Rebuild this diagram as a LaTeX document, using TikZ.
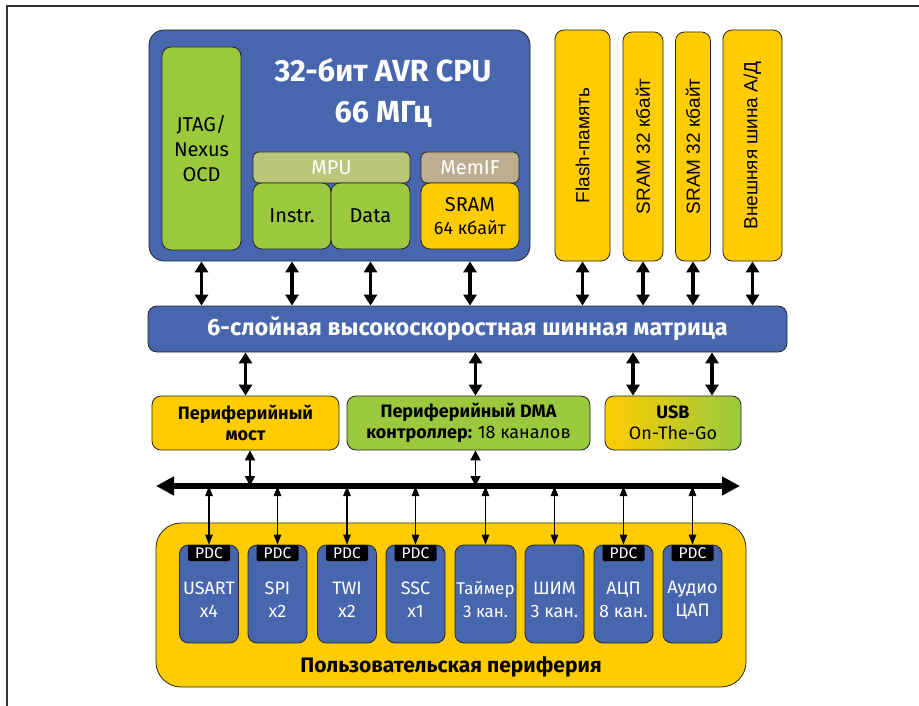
\documentclass[tikz,border=0pt]{standalone}
\usepackage{fontspec}
\setmainfont{Fira Sans}
\newfontfamily\vertfont{Liberation Sans}
\usetikzlibrary{arrows.meta}
\definecolor{cpublue}{HTML}{4866AE}
\definecolor{lgreen}{HTML}{9AC93D}
\definecolor{ayellow}{HTML}{FFCC00}
\definecolor{mpuolive}{HTML}{BCC67A}
\definecolor{memtan}{HTML}{BDAE8F}
\definecolor{framegray}{HTML}{333333}
\begin{document}
\begin{tikzpicture}[x=1pt,y=-1pt,
        box/.style={draw=black!85,line width=0.8pt,rounded corners=9pt,inner sep=0pt,align=center},
        bluebox/.style={box,fill=cpublue},
        greenbox/.style={box,fill=lgreen},
        yellowbox/.style={box,fill=ayellow},
        vertbox/.style={yellowbox,minimum height=231,font=\vertfont\fontsize{19}{19}\selectfont},
        midbox/.style={box,minimum height=54,font=\fontsize{18}{21}\selectfont\bfseries},
        pbox/.style={bluebox,minimum width=59,minimum height=98},
        ptext/.style={text=white,align=center,inner sep=0pt,font=\fontsize{18}{23}\selectfont},
        pdc/.style={fill=black,text=white,rounded corners=2pt,minimum width=42,minimum height=16,inner sep=0pt,font=\fontsize{15.5}{15.5}\selectfont},
        bigarrow/.style={{Triangle[width=13pt,length=11pt]}-{Triangle[width=13pt,length=11pt]},line width=3.2pt},
        midarrow/.style={{Triangle[width=10pt,length=10pt]}-{Triangle[width=10pt,length=10pt]},line width=1.8pt},
        thinarrow/.style={{Triangle[width=7.5pt,length=10pt]}-{Triangle[width=7.5pt,length=10pt]},line width=1.1pt},
        busarrow/.style={{Triangle[width=18pt,length=18pt]}-{Triangle[width=18pt,length=18pt]},line width=5.5pt}]
        \useasboundingbox (0,0) rectangle (919,706);
        \draw [framegray,line width=1.5pt] (7,706) -- (7,6) -- (919,6);
        % CPU
        \node [bluebox,minimum width=381,minimum height=231,rounded corners=15pt] (cpu) at (339.5,145.5) {};
        \node [text=white,align=center,font=\fontsize{30.5}{41}\selectfont\bfseries] (cpuname) at (383,93) {32-бит AVR CPU\\66 МГц};
        \node [greenbox,minimum width=79,minimum height=203,font=\fontsize{20}{25}\selectfont] (jtag) at (201.5,148.5) {JTAG/\\Nexus\\OCD};
        \node [box,fill=mpuolive,text=white,minimum width=157,minimum height=31,rounded corners=6pt,font=\fontsize{20}{20}\selectfont] (mpu) at (331.5,167.5) {MPU};
        \node [greenbox,minimum width=78,minimum height=66,font=\fontsize{20}{20}\selectfont] (instr) at (292,216) {Instr.};
        \node [greenbox,minimum width=79,minimum height=66,font=\fontsize{20}{20}\selectfont] (data) at (370.5,216) {Data};
        \node [box,fill=memtan,text=white,minimum width=98,minimum height=31,rounded corners=6pt,font=\fontsize{20}{20}\selectfont] (memif) at (470,167.5) {MemIF};
        \node [yellowbox,minimum width=98,minimum height=66,font=\fontsize{18}{23}\selectfont] (sram) at (470,216) {{\fontsize{20}{23}\selectfont SRAM}\\64 кбайт};
        % memories
        \node [vertbox,minimum width=55] (flash) at (582.5,145.5) {\rotatebox{90}{Flash-память}};
        \node [vertbox,minimum width=40,minimum height=229] (srama) at (643,146.5) {\rotatebox{90}{SRAM 32 кбайт}};
        \node [vertbox,minimum width=35,minimum height=229] (sramb) at (693,146.5) {\rotatebox{90}{SRAM 32 кбайт}};
        \node [vertbox,minimum width=59] (ebi) at (752.5,145.5) {\rotatebox{90}{Внешняя шина А/Д}};
        % bus matrix
        \node [bluebox,text=white,minimum width=639,minimum height=46,font=\fontsize{23.5}{23.5}\selectfont\bfseries] (matrix) at (467.5,329) {6-слойная высокоскоростная шинная матрица};
        \draw [bigarrow] (jtag |- cpu.south) -- (jtag |- matrix.north);
        \draw [bigarrow] (instr |- cpu.south) -- (instr |- matrix.north);
        \draw [bigarrow] (data |- cpu.south) -- (data |- matrix.north);
        \draw [bigarrow] (sram |- cpu.south) -- (sram |- matrix.north);
        \draw [bigarrow] (flash.south) -- (flash |- matrix.north);
        \draw [bigarrow] (srama.south) -- (srama |- matrix.north);
        \draw [bigarrow] (sramb.south) -- (sramb |- matrix.north);
        \draw [bigarrow] (ebi.south) -- (ebi |- matrix.north);
        % bridge, DMA, USB
        \node [midbox,fill=ayellow,minimum width=187] (bridge) at (245.5,423) {Периферийный\\мост};
        \node [midbox,fill=lgreen,minimum width=243] (dma) at (468.5,423) {Периферийный DMA\\контроллер: {\mdseries 18 каналов}};
        \node [midbox,left color=ayellow,right color=lgreen,minimum width=136] (usb) at (673,423) {USB\\{\mdseries On-The-Go}};
        \draw [bigarrow] (bridge |- matrix.south) -- (bridge.north);
        \draw [bigarrow] ([xshift=7]dma.north |- matrix.south) -- ([xshift=7]dma.north);
        \draw [bigarrow] ([xshift=-40]usb.north |- matrix.south) -- ([xshift=-40]usb.north);
        \draw [bigarrow] ([xshift=39]usb.north |- matrix.south) -- ([xshift=39]usb.north);
        % peripheral bus
        \coordinate (pbl) at (156,486);
        \coordinate (pbr) at (740,486);
        \draw [busarrow] (pbl) -- (pbr);
        \draw [midarrow] ([xshift=4.5]bridge.south) -- ([xshift=4.5]bridge.south |- pbl);
        \draw [midarrow] ([xshift=7]dma.south) -- ([xshift=7]dma.south |- pbl);
        % user peripherals
        \node [yellowbox,minimum width=590,minimum height=164,rounded corners=25pt] (user) at (451,605) {};
        \node [font=\fontsize{21}{21}\selectfont\bfseries] (userlbl) at (451,667) {Пользовательская периферия};
        \node [pbox] (usart) at (209,594) {};
        \node [pbox] (spi) at (277.5,594) {};
        \node [pbox] (twi) at (347,594) {};
        \node [pbox] (ssc) at (415.5,594) {};
        \node [pbox,minimum width=61] (timer) at (485.5,594) {};
        \node [pbox] (pwm) at (554.5,594) {};
        \node [pbox] (adc) at (623.5,594) {};
        \node [pbox] (dac) at (692.5,594) {};
        \node [ptext] (usartt) at (209,600) {USART\\x4};
        \node [ptext] (spit) at (277.5,600) {SPI\\x2};
        \node [ptext] (twit) at (347,600) {TWI\\x2};
        \node [ptext] (ssct) at (415.5,600) {SSC\\x1};
        \node [ptext,font=\fontsize{17}{23}\selectfont] (timert) at (485.5,600) {Таймер\\3 кан.};
        \node [ptext] (pwmt) at (554.5,600) {ШИМ\\3 кан.};
        \node [ptext] (adct) at (623.5,600) {АЦП\\8 кан.};
        \node [ptext] (dact) at (692.5,600) {Аудио\\ЦАП};
        \node [pdc] (pdca) at (209,553) {PDC};
        \node [pdc] (pdcb) at (277.5,553) {PDC};
        \node [pdc] (pdcc) at (347,553) {PDC};
        \node [pdc] (pdcd) at (415.5,553) {PDC};
        \node [pdc] (pdce) at (623.5,553) {PDC};
        \node [pdc] (pdcf) at (692.5,553) {PDC};
        \draw [thinarrow] (usart |- pbl) -- (usart.north);
        \draw [thinarrow] (spi |- pbl) -- (spi.north);
        \draw [thinarrow] (twi |- pbl) -- (twi.north);
        \draw [thinarrow] (ssc |- pbl) -- (ssc.north);
        \draw [thinarrow] (timer |- pbl) -- (timer.north);
        \draw [thinarrow] (pwm |- pbl) -- (pwm.north);
        \draw [thinarrow] (adc |- pbl) -- (adc.north);
        \draw [thinarrow] (dac |- pbl) -- (dac.north);
    \end{tikzpicture}
\end{document}
